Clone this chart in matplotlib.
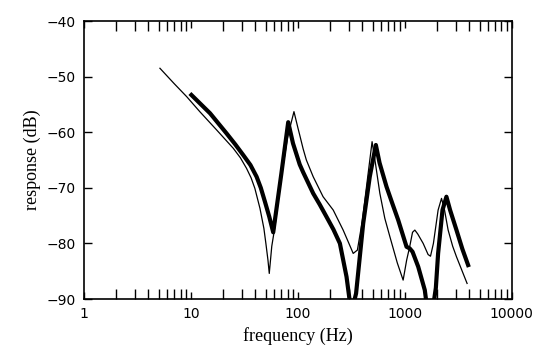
import matplotlib.pyplot as plt

# thin curve
f_thin = [5.13, 7, 9.12, 12.1, 17.4, 24.9, 29, 33.1, 36.5, 39.6, 44.2, 48.1,
          50.2, 52.5, 54, 57, 61, 70, 80, 86, 91.9, 100, 104, 112, 120, 139,
          172, 214, 265, 300, 329, 360, 400, 450, 494, 530, 584, 650, 725, 850,
          964, 1040, 1110, 1180, 1240, 1320, 1484, 1650, 1738, 1850, 2047,
          2203, 2350, 2540, 2800, 3040, 3820]
r_thin = [-48.5, -51.3, -53.6, -56.3, -59.6, -62.9, -64.6, -66.5, -68.2, -70.1,
          -73.7, -77.3, -80.0, -83.0, -85.4, -80.5, -77.0, -68.0, -61.0, -58.5,
          -56.3, -59.2, -60.5, -63.0, -65.0, -68.0, -71.6, -74.0, -77.6, -80.0,
          -81.8, -81.2, -76.0, -68.0, -61.7, -65.5, -71.0, -75.5, -78.8, -83.5,
          -86.6, -83.0, -80.6, -78.0, -77.6, -78.3, -80.0, -82.0, -82.3, -80.0,
          -74.0, -71.9, -74.0, -77.6, -80.5, -82.4, -87.2]

# thick curve
f_thick = [10.1, 15.1, 21.5, 26, 30.8, 36, 41.1, 45, 49.2, 54, 58.8, 70, 81.2,
           90, 104, 112, 139, 160, 185, 215, 247, 285, 306, 330, 350, 408,
           470, 536, 580, 674, 770, 867, 1037, 1110, 1180, 1334, 1537, 1600,
           1850, 1950, 2047, 2250, 2448, 2650, 3040, 3450, 3906]
r_thick = [-53.3, -56.6, -60.2, -62.2, -64.1, -65.9, -68.0, -70.0, -72.5,
           -75.2, -78.0, -67.5, -58.2, -62.0, -65.8, -67.2, -71.0, -73.0, -75.2,
           -77.5, -80.0, -86.0, -90.5, -91.0, -89.0, -76.4, -68.0, -62.3, -65.5,
           -69.8, -73.0, -75.8, -80.6, -80.9, -81.5, -84.2, -88.4, -91.0, -91.0,
           -88.0, -81.8, -74.0, -71.6, -74.0, -77.6, -81.0, -83.9]

fig = plt.figure(figsize=(5.54, 3.61), dpi=100)
ax = fig.add_axes([0.1516, 0.1717, 0.7722, 0.7701])

ax.plot(f_thin, r_thin, color='black', lw=0.9)
ax.plot(f_thick, r_thick, color='black', lw=3.0)

ax.set_xscale('log')
ax.set_xlim(1, 10000)
ax.set_ylim(-90, -40)
ax.set_xticks([1, 10, 100, 1000, 10000])
ax.set_xticklabels(['1', '10', '100', '1000', '10000'])
ax.set_yticks([-90, -80, -70, -60, -50, -40])

ax.tick_params(which='both', direction='in', top=True, right=True,
               labelsize=10, pad=6)
ax.tick_params(which='major', length=5, width=1)
ax.tick_params(which='minor', length=7, width=1)
ax.tick_params(axis='y', which='major', length=6)
for s in ax.spines.values():
    s.set_linewidth(1.2)

ax.set_xlabel('frequency (Hz)', family='Liberation Serif', fontsize=13)
ax.set_ylabel('response (dB)', family='Liberation Serif', fontsize=13)

fig.savefig('out.png', dpi=100)
